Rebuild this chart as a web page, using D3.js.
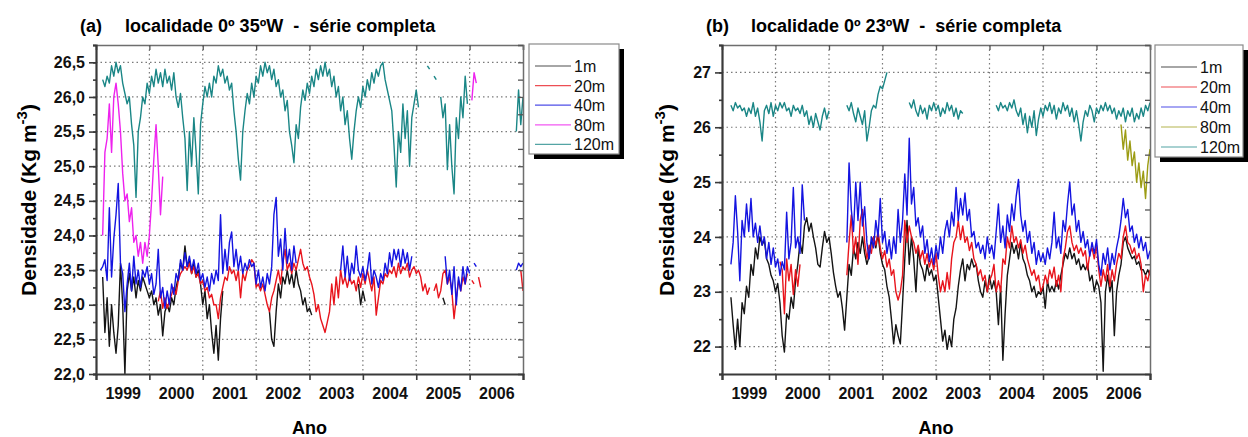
<!DOCTYPE html>
<meta charset="utf-8">
<body style="margin:0;background-color:white;">
<svg width="1248" height="437"></svg>
<script src="https://cdnjs.cloudflare.com/ajax/libs/d3/7.8.5/d3.min.js"></script>
<script>

// samples are half-monthly, counted from 1999.0
var step = 1 / 24;
var years = [1999, 2000, 2001, 2002, 2003, 2004, 2005, 2006];
var depths = ['1m', '20m', '40m', '80m', '120m'];
var ticksA = [22.0, 22.5, 23.0, 23.5, 24.0, 24.5, 25.0, 25.5, 26.0, 26.5];
var ticksB = [22, 23, 24, 25, 26, 27];

// each segment: [index of first sample, values ...]
// (a) 0º 35ºW
var a1m = [
  [3, 23.4,22.6,23.1,22.4,23.0,22.6,22.3,22.7,23.6,23.0,22.0,23.2,23.45,23.2,23.4,23.1,23.35,23.2,23.4,23.3,23.2,23.1,23.2,23.0,23.1,22.85,23.0,22.55,22.9,23.0,22.9,23.1,23.0,23.25,23.4,23.6,23.5,23.85,23.55,23.65,23.45,23.6,23.4,23.5,23.3,23.0,23.2,22.8,23.0,22.6,22.3,22.7,22.2,22.8,23.2],
  [78, 22.9,22.5,22.4,22.9,23.3,23.1,23.4,23.3,23.5,23.3,23.45,23.25,23.5,23.3,23.2,23.0,23.1,22.9,22.95,22.85],
  [118, 23.3,23.0,23.2,23.05],
  [156, 23.1,23.0]
];
var a20m = [
  [28, 23.05,23.2,22.95,23.1,22.95,23.05,23.15,23.25,23.15,23.35,23.45,
       23.5,23.55,23.5,23.6,23.45,23.55,23.4,23.45,23.3,23.35,23.2,23.25,
       23.1,23.15,23.0,23.0,22.8,23.1,23.25,23.4,23.35,23.55,23.45,23.5,
       23.35,23.5,23.1,23.45,23.35,23.5,23.55,23.65,23.6,23.25,23.3,23.2,
       23.3,23.15,23.0,22.9,23.1,23.2,23.35,23.5,23.3,23.6,23.8,23.5,
       23.6,23.45,23.6,23.5,23.65,23.8,23.6,23.5,23.55,23.4,23.3,23.15,
       22.9,23.0,22.8,22.7,22.6,22.75,22.9,23.3,23.0,23.4,23.1,23.5,
       23.3,23.4,23.25,23.4,23.3,23.35,23.2,23.4,23.25,23.45,23.3,23.5,
       23.35,23.2,23.4,22.85,23.1,23.35,23.3,23.45,23.4,23.5,23.45,23.55,
       23.4,23.6,23.45,23.55,23.5,23.6,23.4,23.5,23.55,23.45,23.5,23.4,
       23.2,23.3,23.15,23.25],
  [152, 23.2,23.3,23.1,23.2,23.45,23.5,23.3,23.4,23.2,22.8,23.1,23.35,23.2,23.4,23.3,23.45],
  [169, 23.35,23.3],
  [172, 23.4,23.25],
  [191, 23.5,23.2]
];
var a40m = [
  [2, 23.5,23.55,23.65,23.35,24.4,23.4,23.95,24.3,24.75,23.6,23.45,22.9,
      23.3,23.6,23.2,23.7,23.3,23.5,23.25,23.5,23.4,23.55,23.3,23.45,
      23.15,23.3,23.8,23.1,23.25,22.95,23.2,23.0,23.3,23.15,23.45,23.35,
      23.65,23.5,23.75,23.55,23.7,23.5,23.65,23.45,23.6,23.35,23.45,23.25,
      23.4,23.2,23.45,23.3,23.5,23.35,24.3,23.45,23.8,23.5,23.9,24.05,
      23.55,23.8,23.5,23.7,23.45,23.6,23.5,23.65,23.55,23.6,23.3,23.5,
      23.25,23.4,23.2,23.45,23.3,23.55,24.3,24.55,23.7,23.95,23.5,24.1,
      23.6,23.8,23.5,23.85,23.6],
  [110, 23.5,23.85,23.4,23.7,23.35,23.6,23.45,23.85,23.5,23.4,23.55,23.35,
        23.5,23.75,23.3,23.5,23.4,23.25,23.45,23.35,23.6,23.45,23.75,23.55,
        23.8,23.65,23.8,23.55,23.8,23.6,23.75,23.5,23.7],
  [157, 23.7,23.3,23.5,23.15,23.55,23.0,23.4,23.2,23.55,23.3,23.55,23.45],
  [170, 23.6,23.55],
  [189, 23.5,23.6,23.55,23.6]
];
var a80m = [
  [3, 24.0,25.2,25.4,25.9,25.2,26.0,26.2,25.9,25.5,24.9,24.5,24.6,24.2,24.4,23.9,24.0,23.7,23.9,23.6,23.9,23.7,24.0,24.5,25.1,25.6,25.0,24.3,24.85],
  [169, 25.95,26.35,26.2]
];
var a120m = [
  [3, 26.25,26.15,26.3,26.2,26.45,26.3,26.5,26.35,26.45,26.2,26.05,25.9,
      26.0,25.6,25.3,24.55,25.5,25.7,26.0,25.9,26.2,26.05,26.3,26.15,
      26.4,26.2,26.35,26.15,26.4,26.2,26.3,26.1,26.35,26.0,25.85,26.05,
      25.7,25.4,24.65,25.5,25.0,25.7,25.2,24.6,25.6,25.9,26.15,26.0,
      26.2,26.0,26.3,26.2,26.45,26.3,26.4,26.2,26.3,26.1,26.2,25.8,
      25.5,25.1,24.8,25.5,25.8,26.05,25.9,26.2,26.0,26.3,26.2,26.45,
      26.3,26.5,26.35,26.45,26.25,26.4,26.15,26.25,26.0,26.1,25.8,25.95,
      25.5,25.3,25.05,25.6,25.4,25.85,26.1,25.95,26.2,26.05,26.3,26.15,
      26.4,26.25,26.45,26.3,26.5,26.3,26.4,26.15,26.3,26.0,26.15,25.8,
      26.0,25.6,25.8,25.4,25.1,25.5,25.8,26.0,25.85,26.15,26.0,26.25,
      26.1,26.35,26.2,26.4,26.3,26.45,26.5,26.25,26.1,25.95,25.8,25.3,
      24.7,25.5,25.2,25.9,25.4,25.8,25.0,25.7,25.9,26.1,25.85],
  [149, 26.45,26.4],
  [152, 26.3,26.25],
  [155, 26.0,25.7,25.9,24.95,25.6,25.0,24.6,25.7,25.4,26.0,25.7,26.3,25.9],
  [189, 25.5,26.1,25.6,26.0]
];

// (b) 0º 23ºW
var b1m = [
  [4, 22.9,22.4,21.95,22.5,22.0,22.8,22.6,23.1,22.9,23.5,23.3,23.8,
      23.6,24.0,23.85,23.95,23.6,23.5,23.3,23.2,23.0,23.15,22.8,22.2,
      21.9,22.6,22.5,22.9,22.7,23.2,23.5,23.9,23.7,24.2,24.35,24.1,
      24.25,24.0,23.8,23.5,23.45,23.8,24.1,23.9,24.0,23.7,23.35,23.1,
      22.9,23.0,22.7,22.3,22.9,23.5,23.3,23.8,23.6,23.9,23.7,24.0,
      23.7,23.5,23.65,23.9,24.0,23.8,24.05,23.7,23.5,23.4,23.1,22.9,
      22.5,22.05,22.4,22.2,22.05,22.8,23.6,24.3,23.5,24.0,23.6,23.0,
      23.8,23.5,23.4,23.2,23.5,23.3,23.4,23.2,23.3,22.9,22.5,22.1,
      22.3,21.95,22.2,22.0,22.5,22.7,23.1,23.4,23.6,23.2,23.5,23.4,
      23.6,23.45,23.5,23.2,23.0,22.9,23.2,23.0,23.3,23.05,23.2,23.0,
      22.4,23.1,21.75,22.6,23.3,23.6,23.9,23.7,23.85,23.6,23.9,23.6,
      23.5,23.3,23.2,23.0,23.1,22.9,23.0,22.95,23.1,22.7,23.2,23.0,
      23.1,23.0,23.2,23.05,23.3,23.5,23.7,23.6,23.8,23.6,23.7,23.5,
      23.6,23.4,23.5,23.4,23.5,23.2,23.3,23.0,23.2,23.1,22.8,21.55,
      23.0,23.3,23.0,23.2,22.2,23.0,23.3,23.5,23.9,24.0,23.8,23.7,
      23.6,23.65,23.5,23.55,23.4,23.4,23.3,23.4,23.3]
];
var b20m = [
  [26, 23.55,23.4,22.6,23.6,23.2,23.5,22.95,23.4,23.1,23.5],
  [56, 23.3,23.9,24.4,23.7,24.0,23.5,24.3,24.5,23.9,23.6,23.85,23.7,
       24.0,23.85,24.1,23.8,23.6,23.75,23.45,23.6,23.3,23.4,23.0,22.85,
       23.0,23.3,24.3,23.9,24.2,24.0,23.9,23.7,23.85,23.6,23.75,23.5,
       23.7,23.45,23.6,23.4,23.7,23.3,23.0,23.2,23.0,23.35,23.05,23.6,
       23.9,24.0,24.3,23.95,24.2,23.9,24.0,23.75,23.9,23.6,23.5,23.3,
       23.4,23.2,23.3,23.0,23.2,23.3,23.5,23.0,23.2,23.0,23.6,23.5,
       24.0,23.8,24.2,23.9,24.0,23.8,23.95,23.7,23.85,23.6,23.45,23.3,
       23.4,23.2,23.3,23.0,23.1,23.3,23.15,23.4,23.25,23.45,23.1,23.3,
       23.0,23.6,23.8,24.1,24.2,23.9,23.75,23.85,23.7,23.8,23.65,23.75,
       23.4,23.7,23.8,23.6,23.85,23.4,23.1,23.4,23.2,23.5,23.1,23.4,
       23.2,23.5,23.7,23.6,24.0,24.2,23.9,23.85,23.7,23.8,23.6,23.7,
       23.5,23.0,23.3,23.2,23.4]
];
var b40m = [
  [4, 23.5,23.9,24.75,24.1,23.2,24.3,24.0,24.6,24.1,24.7,24.0,24.25,
      23.9,24.2,23.85,24.0,23.6,23.9,23.5,23.8,23.45,23.6,23.3,23.55,
      23.4,24.45,23.6,23.9,24.9,23.8,24.0,23.7,24.95,24.3],
  [56, 23.9,25.35,24.5,24.1,25.0,24.3,25.0,24.2,24.55,23.9,23.6,24.0,
       23.8,24.3,24.0,24.7,23.9,24.1,23.7,23.95,23.6,24.0,23.7,24.5,
       23.9,24.3,25.15,24.4,25.8,24.6,24.9,24.2,24.35,24.0,24.2,23.7,
       23.95,23.55,23.8,23.5,23.85,23.6,24.0,23.7,24.1,24.3,24.0,24.45,
       24.2,24.9,24.3,24.7,24.4,24.8,24.3,24.5,24.0,24.1,23.8,23.9,
       23.7,23.85,23.6,24.0,23.7,23.85,23.6,24.1,24.6,23.9,24.2,23.8,
       24.4,24.1,24.6,24.3,24.75,25.05,24.4,24.1,24.3,23.9,24.1,23.7,
       23.9,23.5,23.75,23.55,23.7,23.5,23.8,23.6,23.9,24.45,23.8,24.0,
       23.7,24.3,24.1,24.6,25.0,24.4,24.6,24.1,24.3,23.9,24.1,23.8,
       23.95,23.65,23.9,23.7,23.95,23.5,23.3,23.7,23.5,23.8,23.4,23.7,
       23.5,23.8,24.0,24.3,24.7,24.35,24.5,24.1,24.2,23.9,24.05,23.8,
       24.0,23.75,23.9,23.6,23.75]
];
var b80m = [
  [179, 26.05,25.6,25.95,25.4,25.75,25.3,25.55,25.0,25.35,24.9,25.2,24.7,25.3,25.6]
];
var b120m = [
  [4, 26.4,26.3,26.45,26.35,26.4,26.3,26.35,26.2,26.35,26.25,26.45,26.2,
      26.35,26.1,25.75,26.3,26.4,26.25,26.45,26.2,26.4,26.3,26.45,26.35,
      26.45,26.3,26.35,26.2,26.4,26.3,26.35,26.25,26.4,26.2,26.3,26.05,
      26.2,26.0,26.25,26.1,25.95,26.2,26.35,26.15,26.3],
  [56, 26.4,26.3,26.45,26.25,26.1,26.35,26.2,26.05,26.3,25.75,26.0,26.3,
       26.4,26.35,26.6,26.75,26.7,26.85,27.0],
  [84, 26.45,26.35,26.5,26.3,26.2,26.4,26.25,26.35,26.15,26.4,26.3,26.45,
       26.3,26.4,26.2,26.35,26.25,26.45,26.3,26.4,26.2,26.35,26.15,26.3,26.25],
  [123, 26.4,26.3,26.45,26.35,26.4,26.3,26.45,26.35,26.5,26.3,26.2,26.35,
        26.05,26.25,25.9,26.2,26.0,26.3,25.85,26.15,26.35,26.2,26.4,26.3,
        26.45,26.25,26.4,26.15,26.35,26.25,26.45,26.3,26.4,26.2,26.35,26.1,
        26.3,26.05,25.75,26.1,26.3,26.2,26.4,26.3,26.1,26.35,26.25,26.4,
        26.3,26.45,26.3,26.4,26.25,26.35,26.15,26.3,26.2,26.35,26.1,26.3,
        26.2,26.35,26.1,26.25,26.15,26.35,26.2,26.4,26.3,26.45]
];

var colorsA = ['#141414', '#e8141c', '#1414e0', '#ee22ee', '#1a8686'];
var colorsB = ['#141414', '#e8141c', '#1414e0', '#9c9c14', '#1a8686'];

var svgContainer = d3.select('svg');
var font = "Arial, 'Liberation Sans', sans-serif";

function toPoints(seg) {
  var i0 = seg[0];
  return seg.slice(1).map(function(v, k) { return [1999 + (i0 + k) * step, v]; });
}

function drawPanel(p) {
  var x = d3.scaleLinear().domain([1999, 2007]).range([p.left, p.right]);
  var y = d3.scaleLinear().domain(p.yDomain).range([p.bottom, p.top]);
  var g = svgContainer.append('g');

  // dotted grid
  g.selectAll('.hg').data(p.ticks.filter(function(t) { return t > p.yDomain[0]; }))
    .enter().append('line')
    .attr('x1', p.left).attr('x2', p.right)
    .attr('y1', function(d) { return y(d); }).attr('y2', function(d) { return y(d); })
    .attr('stroke', '#7a7a7a').attr('stroke-width', 1.2).attr('stroke-dasharray', '1.5,3');
  g.selectAll('.vg').data(years.slice(1))
    .enter().append('line')
    .attr('y1', p.top).attr('y2', p.bottom)
    .attr('x1', function(d) { return x(d); }).attr('x2', function(d) { return x(d); })
    .attr('stroke', '#7a7a7a').attr('stroke-width', 1.2).attr('stroke-dasharray', '1.5,3');

  // series, shallow first
  var line = d3.line().x(function(d) { return x(d[0]); }).y(function(d) { return y(d[1]); });
  p.series.forEach(function(s, k) {
    s.forEach(function(seg) {
      g.append('path').attr('d', line(toPoints(seg)))
        .attr('fill', 'none').attr('stroke', p.colors[k])
        .attr('stroke-width', 1.4).attr('stroke-linejoin', 'round');
    });
  });

  // inner ticks on top and right
  var top = g.append('g').attr('transform', 'translate(0,' + p.top + ')')
    .call(d3.axisTop(x).tickValues(years.concat([2007])).tickSize(-5).tickFormat(''));
  var right = g.append('g').attr('transform', 'translate(' + p.right + ',0)')
    .call(d3.axisRight(y).tickValues(p.minor).tickSize(-5).tickFormat(''));
  [top, right].forEach(function(a) {
    a.select('.domain').attr('stroke', '#6e6e6e').attr('stroke-width', 1.5);
    a.selectAll('.tick line').attr('stroke', '#555').attr('stroke-width', 1.3);
  });

  // left axis
  var left = g.append('g').attr('transform', 'translate(' + p.left + ',0)');
  left.call(d3.axisLeft(y).tickValues(p.minor).tickSize(3).tickFormat(''));
  var leftMajor = g.append('g').attr('transform', 'translate(' + p.left + ',0)')
    .call(d3.axisLeft(y).tickValues(p.ticks).tickSize(7).tickPadding(4).tickFormat(p.fmt));
  // bottom axis
  var bottom = g.append('g').attr('transform', 'translate(0,' + p.bottom + ')')
    .call(d3.axisBottom(x).tickValues(years.concat([2007])).tickSize(6).tickFormat(''));
  var yearLabels = g.append('g').attr('transform', 'translate(0,' + p.bottom + ')')
    .call(d3.axisBottom(x).tickValues(years.map(function(d) { return d + 0.5; }))
      .tickSize(0).tickPadding(14).tickFormat(function(d, i) { return years[i]; }));
  yearLabels.select('.domain').remove();
  leftMajor.select('.domain').remove();
  [left, leftMajor, bottom].forEach(function(a) {
    a.select('.domain').attr('stroke', '#3a3a3a').attr('stroke-width', 2.2);
    a.selectAll('.tick line').attr('stroke', '#3a3a3a').attr('stroke-width', 1.6);
  });
  [leftMajor, yearLabels].forEach(function(a) {
    a.selectAll('text').attr('font-family', font).attr('font-size', 16)
      .attr('font-weight', 'bold').attr('fill', '#111');
  });

  // titles
  g.append('text').attr('x', p.left - 16).attr('y', 32).text(p.tag)
    .attr('font-family', font).attr('font-size', 18).attr('font-weight', 'bold');
  g.append('text').attr('x', p.left + 29).attr('y', 32).text(p.title)
    .attr('font-family', font).attr('font-size', 18).attr('font-weight', 'bold')
    .style('white-space', 'pre');
  g.append('text').attr('x', (p.left + p.right) / 2).attr('y', 434)
    .attr('text-anchor', 'middle').text('Ano')
    .attr('font-family', font).attr('font-size', 18).attr('font-weight', 'bold');
  var yl = g.append('text')
    .attr('transform', 'translate(' + p.ylabelX + ',200) rotate(-90)')
    .attr('text-anchor', 'middle')
    .attr('font-family', font).attr('font-size', 21).attr('font-weight', 'bold');
  yl.append('tspan').text('Densidade (Kg m');
  yl.append('tspan').attr('dy', -9).attr('font-size', 15).text('-3');
  yl.append('tspan').attr('dy', 9).text(')');

  // legend with drop shadow
  var lg = g.append('g').attr('transform', 'translate(' + p.legend[0] + ',' + p.legend[1] + ')');
  lg.append('rect').attr('x', 5).attr('y', 5).attr('width', p.legend[2]).attr('height', p.legend[3])
    .attr('fill', '#000');
  lg.append('rect').attr('width', p.legend[2]).attr('height', p.legend[3])
    .attr('fill', '#fff').attr('stroke', '#8a8a8a').attr('stroke-width', 1.2);
  depths.forEach(function(name, k) {
    var ry = 22 + k * p.legend[4];
    lg.append('line').attr('x1', 6).attr('x2', 42).attr('y1', ry).attr('y2', ry)
      .attr('stroke', p.colors[k]).attr('stroke-width', 1.2).attr('opacity', 0.75);
    lg.append('text').attr('x', 45).attr('y', ry + 6).text(name)
      .attr('font-family', font).attr('font-size', 16).attr('fill', '#111');
  });
}

drawPanel({
  left: 96, right: 523, top: 45, bottom: 374,
  yDomain: [22, 26.75],
  ticks: ticksA,
  minor: d3.range(22, 26.76, 0.25),
  fmt: function(d) { return d3.format('.1f')(d).replace('.', ','); },
  series: [a1m, a20m, a40m, a80m, a120m],
  colors: colorsA,
  tag: '(a)', title: 'localidade 0º 35ºW  -  série completa',
  ylabelX: 36,
  legend: [529, 44, 90, 110, 19.6]
});

drawPanel({
  left: 722, right: 1150, top: 45, bottom: 374,
  yDomain: [21.5, 27.5],
  ticks: ticksB,
  minor: d3.range(21.5, 27.51, 0.5),
  fmt: function(d) { return d3.format('d')(d); },
  series: [b1m, b20m, b40m, b80m, b120m],
  colors: colorsB,
  tag: '(b)', title: 'localidade 0º 23ºW  -  série completa',
  ylabelX: 674,
  legend: [1155, 45, 88, 112, 20]
});

</script>
</body>
